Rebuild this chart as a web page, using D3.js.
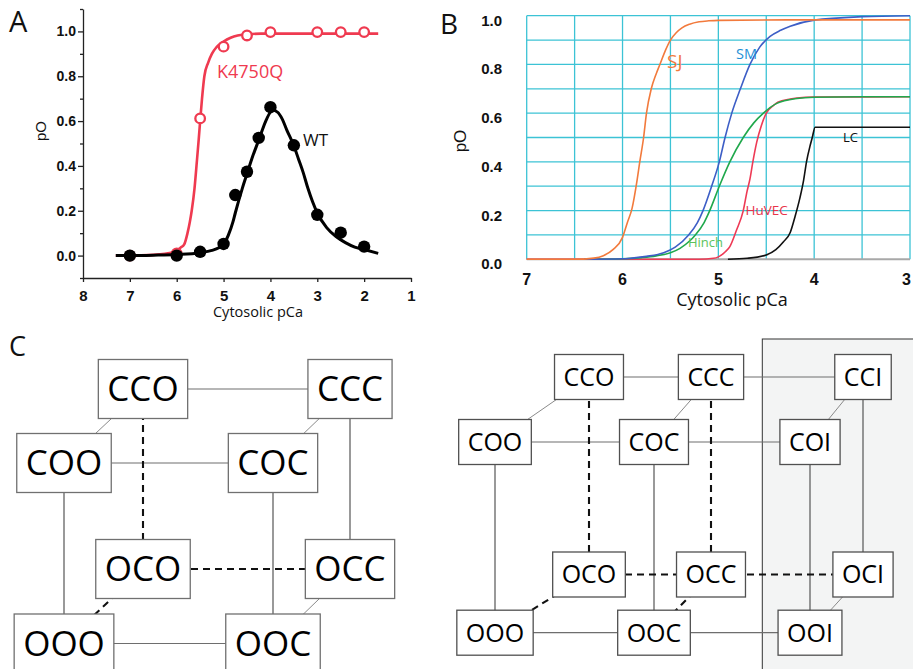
<!DOCTYPE html>
<html><head><meta charset="utf-8">
<script src="https://cdn.jsdelivr.net/npm/d3@7"></script>
<style>body{margin:0;background:#fff}svg{display:block}</style>
</head><body><svg id="c" width="913" height="669"></svg>
<script>
// ---------- Panel A data ----------
const xTicksA = [8,7,6,5,4,3,2,1];
const yTicksA = [0,0.2,0.4,0.6,0.8,1.0];
const yMinorA = [-0.1,0.1,0.3,0.5,0.7,0.9,1.1];
const kPts_pCa = [7,6,5.5,5,4.5,4,3,2.5,2];
const kPts_pO  = [0.0,0.01,0.612,0.932,0.982,0.997,0.997,0.997,0.997];
const wtPts_pCa = [7,6,5.5,5,4.75,4.5,4.25,4,3.5,3,2.5,2];
const wtPts_pO  = [0.0,0.0,0.017,0.052,0.27,0.374,0.525,0.662,0.492,0.182,0.102,0.04];
const kFit_pCa = [7.3,6.8,6.5,6.25,6.1,6.0,5.92,5.84,5.77,5.72,5.68,5.62,5.57,5.53,5.5,5.46,5.41,5.33,5.25,5.15,5.0,4.85,4.7,4.5,4.2,3.5,2.5,1.7];
const kFit_pO  = [0,0.001,0.003,0.008,0.014,0.022,0.035,0.05,0.1,0.15,0.2,0.3,0.42,0.52,0.6,0.7,0.8,0.86,0.9,0.93,0.955,0.972,0.982,0.987,0.99,0.99,0.99,0.99];
const wtFit_pCa = [7.3,6.5,6,5.5,5.25,5.1,5.0,4.9,4.8,4.75,4.6,4.5,4.4,4.25,4.1,4.0,3.95,3.85,3.75,3.65,3.5,3.4,3.3,3.2,3.1,3.0,2.8,2.6,2.4,2.2,2.0,1.7];
const wtFit_pO  = [0,0.002,0.005,0.013,0.023,0.035,0.05,0.09,0.15,0.19,0.3,0.365,0.43,0.515,0.6,0.64,0.648,0.64,0.61,0.56,0.49,0.43,0.37,0.3,0.24,0.19,0.125,0.085,0.058,0.038,0.027,0.01];

// ---------- Panel B data ----------
const xTicksB = [7,6,5,4,3];
const xGridB = [7,6.5,6,5.5,5,4.5,4,3.5,3];
const yTicksB = [0,0.2,0.4,0.6,0.8,1.0];
const yGridB = [0,0.1,0.2,0.3,0.4,0.5,0.6,0.7,0.8,0.9,1.0];
const sj_pCa = [7,6.5,6.3,6.2,6.1,6.0,5.95,5.9,5.85,5.82,5.78,5.75,5.7,5.65,5.61,5.55,5.5,5.44,5.38,5.3,5.2,5.1,5.0,4.0,3.0];
const sj_pO  = [0,0,0.005,0.015,0.04,0.09,0.15,0.21,0.32,0.4,0.5,0.6,0.7,0.76,0.8,0.86,0.9,0.93,0.95,0.965,0.975,0.979,0.981,0.983,0.983];
const sm_pCa = [6.4,6.0,5.9,5.75,5.57,5.45,5.31,5.22,5.16,5.07,4.99,4.93,4.86,4.77,4.67,4.57,4.46,4.35,4.25,4.0,3.5,3.0];
const sm_pO  = [0,0.002,0.005,0.012,0.027,0.05,0.1,0.15,0.2,0.3,0.4,0.5,0.6,0.7,0.8,0.87,0.915,0.94,0.957,0.982,0.996,1.0];
const hinch_pCa = [6.4,6.0,5.8,5.65,5.5,5.4,5.3,5.24,5.15,5.09,4.99,4.88,4.74,4.63,4.53,4.39,4.18,4.0,3.5,3.0];
const hinch_pO  = [0,0.002,0.007,0.014,0.027,0.045,0.075,0.1,0.15,0.2,0.3,0.4,0.5,0.56,0.6,0.64,0.66,0.665,0.667,0.667];
const huvec_pCa = [7,5.2,5.05,5.0,4.93,4.88,4.81,4.74,4.7,4.67,4.64,4.6,4.55,4.5,4.43,4.38,4.25,4.18,4.0,3.0];
const huvec_pO  = [0,0,0.004,0.01,0.03,0.052,0.12,0.2,0.28,0.33,0.4,0.48,0.55,0.6,0.63,0.645,0.658,0.662,0.666,0.667];
const lc_pCa = [4.9,4.7,4.5,4.4,4.32,4.25,4.2,4.15,4.11,4.08,4.04,4.02,3.99,3.0];
const lc_pO  = [0,0.004,0.018,0.04,0.072,0.11,0.175,0.25,0.325,0.4,0.47,0.5,0.542,0.542];

// ---------- Panel C data ----------
const leftStates = ["CCO","CCC","COO","COC","OCO","OCC","OOO","OOC"];
const leftEdges = [["CCO","CCC"],["CCO","COO"],["CCC","COC"],["COO","COC"],["CCO","OCO"],["COO","OOO"],["COC","OOC"],["CCC","OCC"],["OCO","OCC"],["OCO","OOO"],["OCC","OOC"],["OOO","OOC"]];
const leftHidden = ["CCO-OCO","OCO-OCC","OCO-OOO"];
const rightStates = ["CCO","CCC","CCI","COO","COC","COI","OCO","OCC","OCI","OOO","OOC","OOI"];
const rightEdges = [["CCO","CCC"],["CCC","CCI"],["CCO","COO"],["CCC","COC"],["CCI","COI"],["COO","COC"],["COC","COI"],["CCO","OCO"],["CCC","OCC"],["CCI","OCI"],["COO","OOO"],["COC","OOC"],["COI","OOI"],["OCO","OCC"],["OCC","OCI"],["OCO","OOO"],["OCC","OOC"],["OCI","OOI"],["OOO","OOC"],["OOC","OOI"]];
const rightHidden = ["CCO-OCO","CCC-OCC","OCO-OCC","OCC-OCI","OCO-OOO","OCC-OOC"];

const svg = d3.select("#c");
svg.append("rect").attr("width",913).attr("height",669).attr("fill","#fff");
const SANS = "'Open Sans', sans-serif";
const ARIAL = "'Liberation Sans', Arial, sans-serif";

// ================= Panel A =================
const xA = d3.scaleLinear().domain([8,1]).range([83,411]);
const yA = d3.scaleLinear().domain([-0.1,1.1]).range([278,9]);
const gA = svg.append("g");
const axX = gA.append("g").attr("transform",`translate(0,${yA(-0.1)})`)
  .call(d3.axisBottom(xA).tickValues(xTicksA).tickSize(4).tickPadding(8).tickSizeOuter(0).tickFormat(d3.format("d")));
const axY = gA.append("g").attr("transform",`translate(${xA(8)},0)`)
  .call(d3.axisLeft(yA).tickValues(yTicksA).tickSize(5).tickPadding(2).tickSizeOuter(0).tickFormat(d3.format(".1f")));
const axYm = gA.append("g").attr("transform",`translate(${xA(8)},0)`)
  .call(d3.axisLeft(yA).tickValues(yMinorA).tickSize(3).tickSizeOuter(0).tickFormat(""));
axYm.select(".domain").remove();
[axX,axY,axYm].forEach(g=>{
  g.selectAll("path,line").attr("stroke","#222").attr("stroke-width",1.3);
  g.selectAll("text").attr("font-family",ARIAL).attr("font-weight","bold").attr("font-size",15).attr("fill","#111");
});
axY.selectAll("text").attr("font-size",14);

const lineA = d3.line().x(d=>xA(d[0])).y(d=>yA(d[1])).curve(d3.curveMonotoneX);
const RED_A = "#ef3a50";
gA.append("path").datum(d3.zip(kFit_pCa,kFit_pO)).attr("d",lineA)
  .attr("fill","none").attr("stroke",RED_A).attr("stroke-width",2.6);
gA.selectAll("circle.k").data(d3.zip(kPts_pCa,kPts_pO)).join("circle").attr("class","k")
  .attr("cx",d=>xA(d[0])).attr("cy",d=>yA(d[1])).attr("r",4.8)
  .attr("fill","#fff").attr("stroke",RED_A).attr("stroke-width",2.3);
gA.append("path").datum(d3.zip(wtFit_pCa,wtFit_pO)).attr("d",lineA)
  .attr("fill","none").attr("stroke","#000").attr("stroke-width",3);
gA.selectAll("circle.w").data(d3.zip(wtPts_pCa,wtPts_pO)).join("circle").attr("class","w")
  .attr("cx",d=>xA(d[0])).attr("cy",d=>yA(d[1])).attr("r",6.2).attr("fill","#000");

gA.append("text").attr("x",217).attr("y",78).attr("font-family",SANS).attr("font-size",18)
  .attr("fill",RED_A).text("K4750Q");
gA.append("text").attr("x",303).attr("y",146).attr("font-family",SANS).attr("font-size",17)
  .attr("fill","#111").text("WT");
gA.append("text").attr("transform","translate(46,131) rotate(-90)").attr("text-anchor","middle")
  .attr("font-family",ARIAL).attr("font-size",15).attr("fill","#111").text("pO");
gA.append("text").attr("x",258).attr("y",317).attr("text-anchor","middle")
  .attr("font-family",SANS).attr("font-size",14.5).attr("fill","#111").text("Cytosolic pCa");
svg.append("text").attr("x",9).attr("y",32).attr("font-family",SANS).attr("font-size",29).attr("fill","#111").text("A");

// ================= Panel B =================
const xB = d3.scaleLinear().domain([7,3]).range([526.7,910]);
const yB = d3.scaleLinear().domain([0,1]).range([259.3,15.7]);
const gB = svg.append("g");
const GRID = "#3cc3d5";
gB.selectAll("line.vg").data(xGridB).join("line").attr("class","vg")
  .attr("x1",d=>xB(d)).attr("x2",d=>xB(d)).attr("y1",yB(1)).attr("y2",yB(0))
  .attr("stroke",GRID).attr("stroke-width",1.3);
gB.selectAll("line.hg").data(yGridB.filter(v=>v>0)).join("line").attr("class","hg")
  .attr("x1",xB(7)).attr("x2",xB(3)).attr("y1",d=>yB(d)).attr("y2",d=>yB(d))
  .attr("stroke",GRID).attr("stroke-width",1.3);
gB.append("line").attr("x1",xB(7)).attr("x2",xB(3)).attr("y1",yB(0)).attr("y2",yB(0))
  .attr("stroke","#a8a8a8").attr("stroke-width",2);

const lineB = d3.line().x(d=>xB(d[0])).y(d=>yB(d[1])).curve(d3.curveMonotoneX);
const seriesB = [
  {pCa:huvec_pCa,pO:huvec_pO,c:"#ee3a55"},
  {pCa:lc_pCa,pO:lc_pO,c:"#111"},
  {pCa:hinch_pCa,pO:hinch_pO,c:"#20a84c"},
  {pCa:sm_pCa,pO:sm_pO,c:"#3d5ec6"},
  {pCa:sj_pCa,pO:sj_pO,c:"#f27a3c"}
];
seriesB.forEach(s=>{
  gB.append("path").datum(d3.zip(s.pCa,s.pO)).attr("d",lineB)
    .attr("fill","none").attr("stroke",s.c).attr("stroke-width",1.6);
});
gB.selectAll("text.yl").data(yTicksB).join("text").attr("class","yl")
  .attr("x",502).attr("y",d=>yB(d)+10).attr("text-anchor","end")
  .attr("font-family",ARIAL).attr("font-weight","bold").attr("font-size",15).attr("fill","#111")
  .text(d=>d3.format(".1f")(d));
gB.selectAll("text.xl").data(xTicksB).join("text").attr("class","xl")
  .attr("x",d=>Math.min(xB(d),906.5)).attr("y",285).attr("text-anchor","middle")
  .attr("font-family",ARIAL).attr("font-weight","bold").attr("font-size",16).attr("fill","#111")
  .text(d=>d);
gB.append("text").attr("x",732).attr("y",306).attr("text-anchor","middle")
  .attr("font-family",SANS).attr("font-size",18).attr("fill","#111").text("Cytosolic pCa");
gB.append("text").attr("transform","translate(466,141) rotate(-90)").attr("text-anchor","middle")
  .attr("font-family",ARIAL).attr("font-size",17).attr("fill","#111").text("pO");
gB.append("text").attr("x",667).attr("y",68).attr("font-family",SANS).attr("font-size",19).attr("fill","#f27a3c").text("SJ");
gB.append("text").attr("x",736).attr("y",58.5).attr("font-family",SANS).attr("font-size",14.5).attr("fill","#1e8fd6").text("SM");
gB.append("text").attr("x",688).attr("y",246.5).attr("font-family",SANS).attr("font-size",13).attr("fill","#5cc35c").text("Hinch");
gB.append("text").attr("x",745.5).attr("y",215).attr("font-family",SANS).attr("font-size",13.5).attr("fill","#e8344a").text("HuVEC");
gB.append("text").attr("x",843).attr("y",141.5).attr("font-family",SANS).attr("font-size",13).attr("fill","#111").text("LC");
svg.append("text").attr("x",440).attr("y",33.5).attr("font-family",SANS).attr("font-size",28).attr("fill","#111").text("B");

// ================= Panel C =================
svg.append("text").attr("x",9).attr("y",356).attr("font-family",SANS).attr("font-size",27).attr("fill","#111").text("C");

// shaded region in right scheme
svg.append("rect").attr("x",762.3).attr("y",339).attr("width",160).attr("height",340)
  .attr("fill","#f3f4f4").attr("stroke","#333").attr("stroke-width",1);

function drawScheme(states, edges, hidden, xs, ys, fs, boxH, pad, boxStroke){
  const g = svg.append("g");
  const pos = s => {
    const depth = s[1]==="C" ? "back" : "front";
    return [xs[depth](s[2]), ys[depth](s[0])];
  };
  edges.forEach(([a,b])=>{
    const pa = pos(a), pb = pos(b);
    const isHidden = hidden.includes(a+"-"+b);
    const isDiag = a[1]!==b[1];
    const vertical = a[0]!==b[0];
    g.append("line").attr("x1",pa[0]).attr("y1",pa[1]).attr("x2",pb[0]).attr("y2",pb[1])
      .attr("stroke", isHidden ? "#111" : (isDiag ? "#8a8a8a" : (vertical ? "#555" : "#6e6e6e")))
      .attr("stroke-width", isHidden ? 2.1 : (isDiag ? 1 : 1.2))
      .attr("stroke-dasharray", isHidden ? "7,5" : null);
  });
  states.forEach(s=>{
    const [cx,cy] = pos(s);
    const t = g.append("text").attr("x",cx).attr("y",cy+0.357*fs).attr("text-anchor","middle")
      .attr("font-family",SANS).attr("font-size",fs).attr("fill","#000").text(s);
    const w = t.node().getComputedTextLength() + 2*pad;
    g.insert("rect", () => t.node()).attr("x",cx-w/2).attr("y",cy-boxH/2).attr("width",w).attr("height",boxH)
      .attr("fill","#fff").attr("stroke",boxStroke).attr("stroke-width",1.3);
  });
}

drawScheme(leftStates, leftEdges, leftHidden,
  {back: d3.scaleOrdinal().domain(["O","C"]).range([143,350]),
   front: d3.scaleOrdinal().domain(["O","C"]).range([64,273])},
  {back: d3.scaleOrdinal().domain(["C","O"]).range([389,569]),
   front: d3.scaleOrdinal().domain(["C","O"]).range([463,643.5])},
  35, 59, 9, "#707070");

drawScheme(rightStates, rightEdges, rightHidden,
  {back: d3.scaleOrdinal().domain(["O","C","I"]).range([589,711,863]),
   front: d3.scaleOrdinal().domain(["O","C","I"]).range([495,654,810])},
  {back: d3.scaleOrdinal().domain(["C","O"]).range([377,574.5]),
   front: d3.scaleOrdinal().domain(["C","O"]).range([442,632.7])},
  25, 45, 9, "#505050");
</script></body></html>
